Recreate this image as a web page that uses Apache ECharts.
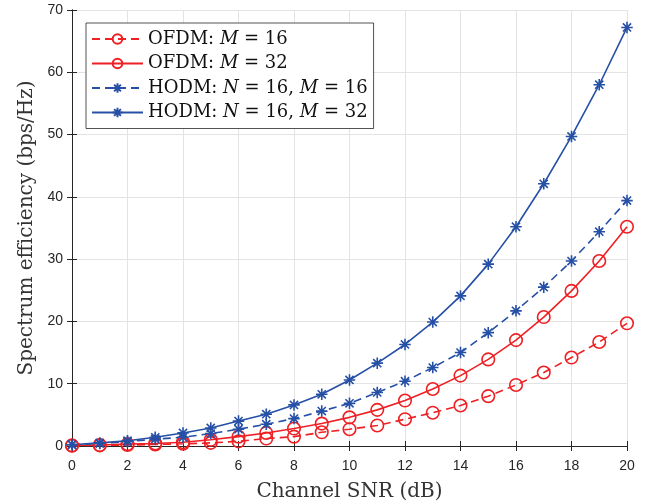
<!DOCTYPE html>
<html><head><meta charset="utf-8">
<script src="https://cdn.jsdelivr.net/npm/echarts@6/dist/echarts.min.js"></script>
<style>html,body{margin:0;padding:0;background:#fff}#c{width:657px;height:504px}</style>
</head><body><div id="c"></div>
<script>
const snr = [0,1,2,3,4,5,6,7,8,9,10,11,12,13,14,15,16,17,18,19,20];
const ofdmM16 = [0.05,0.1,0.15,0.25,0.35,0.5,0.75,1.2,1.5,2.2,2.7,3.3,4.3,5.35,6.5,8.0,9.8,11.8,14.2,16.7,19.7];
const ofdmM32 = [0.1,0.15,0.3,0.4,0.6,1.0,1.5,2.1,2.8,3.6,4.6,5.8,7.3,9.15,11.3,13.9,17.0,20.7,24.9,29.7,35.2];
const hodmM16 = [0.2,0.4,0.7,1.1,1.4,2.0,2.7,3.5,4.4,5.6,6.85,8.6,10.4,12.6,15.0,18.2,21.7,25.5,29.7,34.4,39.4];
const hodmM32 = [0.2,0.5,0.85,1.4,2.1,2.9,4.0,5.1,6.6,8.3,10.6,13.3,16.3,19.9,24.1,29.2,35.2,42.1,49.7,58.0,67.2];
const xTicks = [0,2,4,6,8,10,12,14,16,18,20];
const yTicks = [0,10,20,30,40,50,60,70];
const names = ['OFDM: {i|M} = 16','OFDM: {i|M} = 32','HODM: {i|N} = 16, {i|M} = 16','HODM: {i|N} = 16, {i|M} = 32'];

const RED = '#ee2024', BLUE = '#2650a6';
const STAR = 'path://M0,-10L0,10M-10,0L10,0M-7.07,-7.07L7.07,7.07M-7.07,7.07L7.07,-7.07';
const axisCol = '#262626';
const SERIF = 'DejaVu Serif, serif';
function mk(name, data, color, dashed, sym) {
  return {
    name, type: 'line', data: snr.map((x, i) => [x, data[i]]),
    smooth: false, symbol: sym === 'o' ? 'circle' : STAR,
    symbolSize: sym === 'o' ? 12.5 : 11.5,
    showSymbol: true,
    lineStyle: { color, width: 1.6, type: dashed ? [8, 5] : 'solid' },
    itemStyle: sym === 'o' ? { color: 'transparent', borderColor: color, borderWidth: 1.6 }
                            : { color: color, borderColor: color, borderWidth: 1.6 },
    emphasis: { disabled: true }, animation: false
  };
}
const chart = echarts.init(document.getElementById('c'), null, { renderer: 'canvas' });
const tickFont = { color: axisCol, fontFamily: 'Liberation Sans, Arial, sans-serif', fontSize: 14 };
chart.setOption({
  animation: false,
  grid: { left: 72, right: 30, top: 10, bottom: 58, containLabel: false, outerBoundsMode: 'none' },
  legend: {
    left: 86, top: 23, orient: 'vertical', itemWidth: 51, itemHeight: 12, itemGap: 6.5,
    backgroundColor: '#fff', borderColor: axisCol, borderWidth: 0.8, padding: [7, 6, 7, 5],
    formatter: n => n,
    textStyle: { fontFamily: SERIF, fontSize: 18, color: '#111',
      rich: { i: { fontFamily: SERIF, fontStyle: 'italic', fontSize: 18, color: '#111' } } },
    data: names
  },
  xAxis: [{
    type: 'value', min: 0, max: 20, interval: 2,
    name: 'Channel SNR (dB)', nameLocation: 'middle', nameGap: 36,
    nameTextStyle: { fontFamily: SERIF, fontSize: 20, color: '#333' },
    axisLine: { show: true, lineStyle: { color: axisCol, width: 1 } },
    axisTick: { show: true, inside: true, length: 5, lineStyle: { color: axisCol } },
    axisLabel: { ...tickFont, margin: 13 },
    splitLine: { show: true, lineStyle: { color: '#e3e3e3', width: 1 } }
  }, {
    type: 'value', min: 0, max: 20, interval: 2, position: 'top',
    axisLine: { show: true, lineStyle: { color: axisCol, width: 1 } },
    axisTick: { show: true, inside: true, length: 5, lineStyle: { color: axisCol } },
    axisLabel: { show: false }, splitLine: { show: false }
  }],
  yAxis: [{
    type: 'value', min: 0, max: 70, interval: 10,
    name: 'Spectrum efficiency (bps/Hz)', nameLocation: 'middle', nameGap: 35,
    nameTextStyle: { fontFamily: SERIF, fontSize: 20, color: '#333' },
    axisLine: { show: true, lineStyle: { color: axisCol, width: 1 } },
    axisTick: { show: true, inside: true, length: 5, lineStyle: { color: axisCol } },
    axisLabel: { ...tickFont, margin: 9 },
    splitLine: { show: true, lineStyle: { color: '#e3e3e3', width: 1 } }
  }, {
    type: 'value', min: 0, max: 70, interval: 10, position: 'right',
    axisLine: { show: true, lineStyle: { color: axisCol, width: 1 } },
    axisTick: { show: true, inside: true, length: 5, lineStyle: { color: axisCol } },
    axisLabel: { show: false }, splitLine: { show: false }
  }],
  series: [
    mk(names[0], ofdmM16, RED, true, 'o'),
    mk(names[1], ofdmM32, RED, false, 'o'),
    mk(names[2], hodmM16, BLUE, true, '*'),
    mk(names[3], hodmM32, BLUE, false, '*')
  ]
});
</script></body></html>
